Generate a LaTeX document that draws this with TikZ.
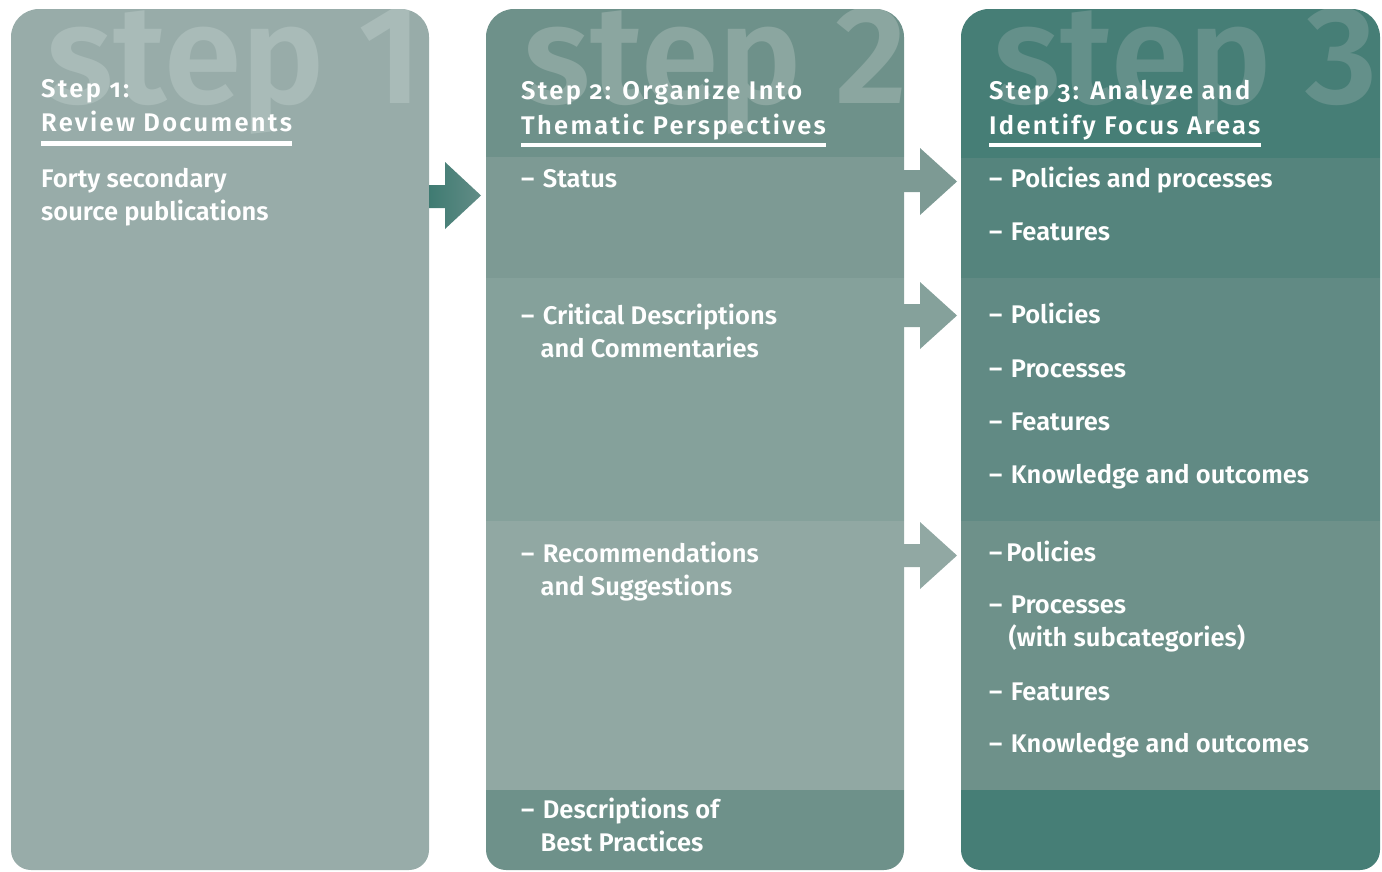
\documentclass[tikz,border=0pt]{standalone}
\usepackage{fontspec}
\setmainfont{Fira Sans}[UprightFont={* SemiBold}]
\newfontfamily\headfont{Fira Sans}[UprightFont={* SemiBold}, LetterSpace=9, Numbers=OldStyle]
\newfontfamily\ghostfont{Fira Sans}[UprightFont={* SemiBold}]
\definecolor{cA}{HTML}{98ACA9}
\definecolor{cAg}{HTML}{A9BBB8}
\definecolor{cBh}{HTML}{6E918A}
\definecolor{cBg}{HTML}{8BA6A0}
\definecolor{cB1}{HTML}{7D9A94}
\definecolor{cB2}{HTML}{85A19B}
\definecolor{cB3}{HTML}{91A8A3}
\definecolor{cCh}{HTML}{467E76}
\definecolor{cCg}{HTML}{64908A}
\definecolor{cC1}{HTML}{55847D}
\definecolor{cC2}{HTML}{618A84}
\definecolor{cC3}{HTML}{6E918A}
\definecolor{arrL}{HTML}{3F7B72}
\definecolor{arrR}{HTML}{628C86}
\newcommand{\itemdash}{–\hspace{0.33em}}
\tikzset{
  ghost/.style={anchor=base west, inner sep=0pt, font=\ghostfont\fontsize{140}{140}\selectfont},
  headtxt/.style={anchor=base west, inner sep=0pt, text=white, font=\headfont\fontsize{25.5}{35}\selectfont},
  itemtxt/.style={anchor=base west, inner sep=0pt, text=white, align=left, font=\fontsize{25.5}{33}\selectfont},
}
\begin{document}
\begin{tikzpicture}[x=1pt,y=-1pt]
\useasboundingbox (0,0) rectangle (1382,871);
% ---------- column 1
\begin{scope}
\clip (11,440) [rounded corners=28] |- (220,9) -| (429,440) [rounded corners=20] |- (220,870) -| (11,440) -- cycle;
\fill[cA] (0,0) rectangle (1382,871);
\node[ghost, text=cAg] (g1) at (46,103) {step 1};
\end{scope}
% ---------- column 2
\begin{scope}
\clip (486,440) [rounded corners=28] |- (695,9) -| (904,440) [rounded corners=20] |- (695,870) -| (486,440) -- cycle;
\fill[cBh] (0,0) rectangle (1382,157);
\fill[cB1] (0,157) rectangle (1382,278);
\fill[cB2] (0,278) rectangle (1382,521);
\fill[cB3] (0,521) rectangle (1382,790);
\fill[cBh] (0,790) rectangle (1382,871);
\node[ghost, text=cBg] (g2) at (523,103) {step 2};
\end{scope}
% ---------- column 3
\begin{scope}
\clip (961,440) [rounded corners=28] |- (1170,9) -| (1380,440) [rounded corners=20] |- (1170,870) -| (961,440) -- cycle;
\fill[cCh] (0,0) rectangle (1382,158);
\fill[cC1] (0,158) rectangle (1382,278);
\fill[cC2] (0,278) rectangle (1382,521);
\fill[cC3] (0,521) rectangle (1382,790);
\fill[cCh] (0,790) rectangle (1382,871);
\node[ghost, text=cCg] (g3) at (993,103) {step 3};
\end{scope}
% ---------- arrows
\shade[left color=arrL, right color=arrR] (429,185) -- (445,185) -- (445,162) -- (481,195.5) -- (445,229) -- (445,208) -- (429,208) -- cycle;
\fill[cB1] (903,170) -- (920,170) -- (920,148) -- (957,181.5) -- (920,215) -- (920,192) -- (903,192) -- cycle;
\fill[cB2] (903,304) -- (920,304) -- (920,282) -- (957,315.5) -- (920,349) -- (920,327) -- (903,327) -- cycle;
\fill[cB3] (903,544) -- (920,544) -- (920,522) -- (957,555.5) -- (920,589) -- (920,567) -- (903,567) -- cycle;
% ---------- headings
\node[headtxt] (h1a) at (41,97) {Step 1:};
\node[headtxt] (h1b) at (41,131) {Review Documents};
\fill[white] ([yshift=-10pt]h1b.base west) rectangle ([yshift=-15pt]h1b.base east);
\node[headtxt] (h2a) at (521,99) {Step 2: Organize Into};
\node[headtxt] (h2b) at (521,134) {Thematic Perspectives};
\fill[white] ([yshift=-9pt]h2b.base west) rectangle ([yshift=-13pt]h2b.base east);
\node[headtxt] (h3a) at (989,99) {Step 3: Analyze and};
\node[headtxt] (h3b) at (989,134) {Identify Focus Areas};
\fill[white] ([yshift=-9pt]h3b.base west) rectangle ([yshift=-13pt]h3b.base east);
% ---------- column 1 body (base anchor = last line)
\node[itemtxt] (t1) at (41,220) {Forty secondary\\source publications};
% ---------- column 2 items
\node[itemtxt] (s1) at (521,187) {\itemdash Status};
\node[itemtxt] (s2) at (521,357) {\itemdash Critical Descriptions\\\hphantom{– }and Commentaries};
\node[itemtxt] (s3) at (521,595) {\itemdash Recommendations\\\hphantom{– }and Suggestions};
\node[itemtxt] (s4) at (521,851) {\itemdash Descriptions of\\\hphantom{– }Best Practices};
% ---------- column 3 items
\node[itemtxt] (a1) at (989,187) {\itemdash Policies and processes};
\node[itemtxt] (a2) at (989,240) {\itemdash Features};
\node[itemtxt] (b1) at (989,323) {\itemdash Policies};
\node[itemtxt] (b2) at (989,377) {\itemdash Processes};
\node[itemtxt] (b3) at (989,430) {\itemdash Features};
\node[itemtxt] (b4) at (989,483) {\itemdash Knowledge and outcomes};
\node[itemtxt] (c1) at (989,561) {–\kern4pt Policies};
\node[itemtxt] (c2) at (989,646) {\itemdash Processes\\\hphantom{– }(with subcategories)};
\node[itemtxt] (c3) at (989,700) {\itemdash Features};
\node[itemtxt] (c4) at (989,752) {\itemdash Knowledge and outcomes};
\end{tikzpicture}
\end{document}
